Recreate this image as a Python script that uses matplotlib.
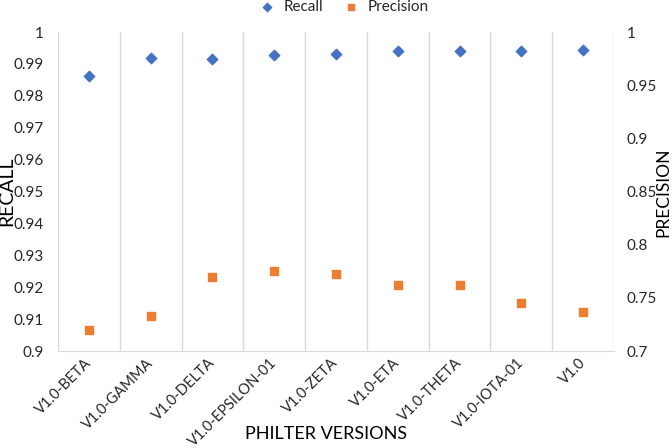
import matplotlib
matplotlib.use("Agg")
import matplotlib.pyplot as plt
import numpy as np

plt.rcParams['font.family'] = ['Lato', 'DejaVu Sans']

categories = ["V1.0-BETA", "V1.0-GAMMA", "V1.0-DELTA", "V1.0-EPSILON-01", "V1.0-ZETA",
              "V1.0-ETA", "V1.0-THETA", "V1.0-IOTA-01", "V1.0"]
recall = [0.9863, 0.9917, 0.9914, 0.9928, 0.9931, 0.9940, 0.9940, 0.9941, 0.9944]
precision = [0.7197, 0.7332, 0.7699, 0.7755, 0.7721, 0.7618, 0.7624, 0.7451, 0.7370]
recall_ticks = [0.9, 0.91, 0.92, 0.93, 0.94, 0.95, 0.96, 0.97, 0.98, 0.99, 1]
precision_ticks = [0.7, 0.75, 0.8, 0.85, 0.9, 0.95, 1]

W, H = 672, 448
fig = plt.figure(figsize=(W/100, H/100), dpi=100)
ax = fig.add_axes([58/W, 1-351/H, (614-58)/W, (351-32)/H])
ax2 = ax.twinx()

x = np.arange(len(categories))
blue = "#4472C4"
orange = "#ED7D31"
ax.scatter(x, recall, marker="D", s=28, color=blue, label="Recall", zorder=3)
ax2.scatter(x, precision, marker="s", s=38, color=orange, label="Precision", zorder=3)

ax.set_xlim(-0.5, len(categories) - 0.5)
ax.set_ylim(0.9, 1.0)
ax2.set_ylim(0.7, 1.0)
ax.set_yticks(recall_ticks)
ax.set_yticklabels([f"{t:g}" for t in recall_ticks])
ax2.set_yticks(precision_ticks)
ax2.set_yticklabels([f"{t:g}" for t in precision_ticks])

# vertical gridlines at category boundaries
for b in np.arange(-0.5, len(categories), 1.0):
    ax.axvline(b, color="#D9D9D9", lw=1, zorder=0)

ax.set_xticks(x)
ax.set_xticklabels(categories, rotation=45, ha="right", va="center", rotation_mode="anchor",
                   fontsize=10.5, color="#262626")

for a in (ax, ax2):
    for s in a.spines.values():
        s.set_visible(False)
    a.tick_params(length=0)
ax.spines['bottom'].set_visible(True)
ax.spines['bottom'].set_color("#D9D9D9")
ax.tick_params(axis='y', labelsize=11, labelcolor="#262626", pad=10)
ax.tick_params(axis='x', pad=7)
ax2.tick_params(axis='y', labelsize=11, labelcolor="#262626", pad=9)

fig.text(7/W, 1-191/H, "RECALL", rotation=90, ha="center", va="center", fontsize=14, color="black")
fig.text(663/W, 1-192/H, "PRECISION", rotation=90, ha="center", va="center", fontsize=12.5, color="black")
fig.text(326/W, 1-434/H, "PHILTER VERSIONS", ha="center", va="center", fontsize=13, color="black")

h1, l1 = ax.get_legend_handles_labels()
h2, l2 = ax2.get_legend_handles_labels()
fig.legend(h1 + h2, l1 + l2, loc="center", bbox_to_anchor=(340/W, 1-7/H), ncol=2,
           frameon=False, fontsize=11, handletextpad=0.1, columnspacing=0.8, markerscale=0.8,
           labelcolor="#262626", borderpad=0)

fig.savefig("out.png", dpi=100)
